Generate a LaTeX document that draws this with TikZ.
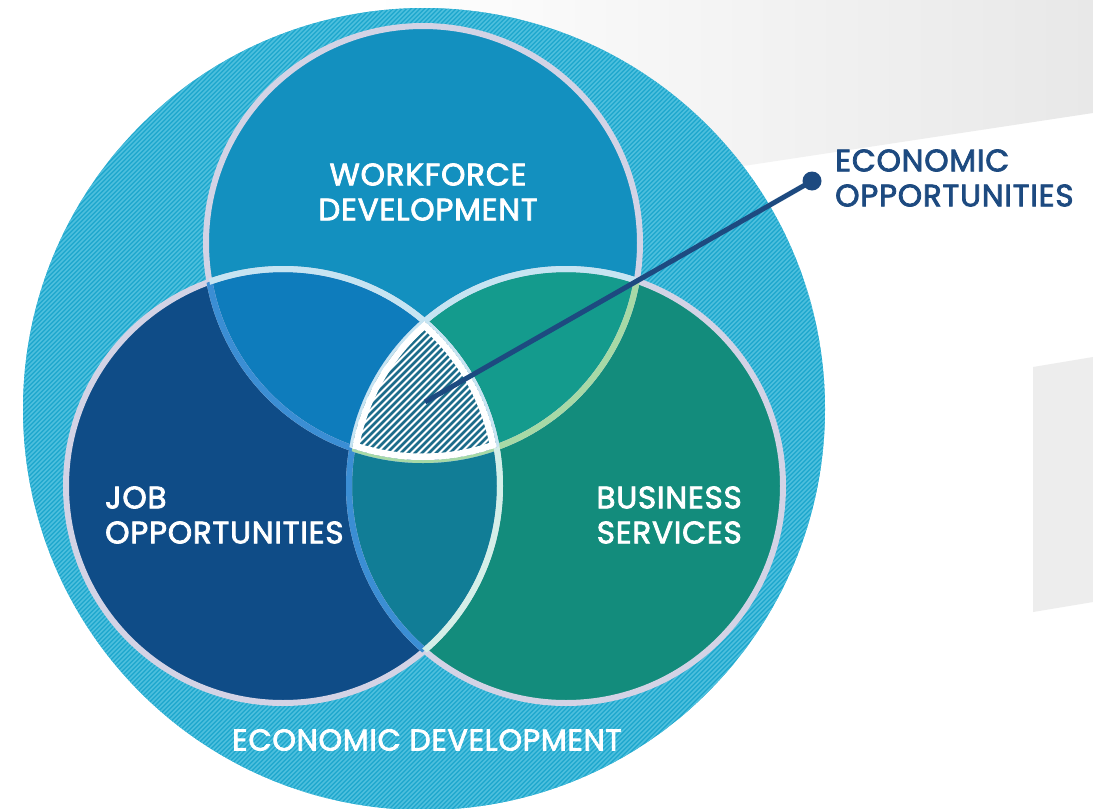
\documentclass[tikz,border=0pt]{standalone}
\usepackage{fontspec}
\setmainfont{Poppins}
\newfontfamily\lblfont[FakeBold=2.5,LetterSpace=2.5]{Poppins}
\definecolor{bggray}{HTML}{E8E8E8}
\definecolor{panelc}{HTML}{EDEDED}
\definecolor{outerc}{HTML}{1EA7CD}
\definecolor{outerst}{HTML}{4DBFDD}
\definecolor{topc}{HTML}{1390BF}
\definecolor{leftc}{HTML}{0F4C87}
\definecolor{rightc}{HTML}{138C7C}
\definecolor{tlc}{HTML}{0E7CBC}
\definecolor{trc}{HTML}{149B8D}
\definecolor{lrc}{HTML}{117D96}
\definecolor{rimc}{HTML}{D3D3E5}
\definecolor{rimblue}{HTML}{3B8ED4}
\definecolor{rimgreen}{HTML}{A7D9A6}
\definecolor{rimmint}{HTML}{D4EFE8}
\definecolor{rimpale}{HTML}{C6E4F2}
\definecolor{navy}{HTML}{1D4A80}
\definecolor{hatchc}{HTML}{1C6C8A}
\begin{document}
\begin{tikzpicture}[x=1pt,y=-1pt,
  ring/.style={line width=6pt},
  lbl/.style={text=white, font=\lblfont\fontsize{31}{35}\selectfont, inner sep=0pt},
  pin/.style={circle, fill=navy, minimum size=19pt, inner sep=0pt}]
\useasboundingbox (0,0) rectangle (1093,809);
\fill[white] (0,0) rectangle (1093,809);

% soft grey backdrop panels
\shade[left color=white, right color=bggray]
  (370,0) -- (1093,0) -- (1093,113) -- (697,173) -- (370,200) -- cycle;
\fill[panelc] (1033,367) -- (1093,357) -- (1093,602) -- (1033,612) -- cycle;

% circle centres
\coordinate (cO) at (424,409);
\coordinate (cT) at (423,243);
\coordinate (cL) at (283,486);
\coordinate (cR) at (566,486);
\def\R{217pt}

% outer striped disc
\fill[outerc] (cO) circle[radius=401pt];
\begin{scope}
  \clip (cO) circle[radius=401pt];
  \foreach \i in {-830,-825.5,...,1100}
    \draw[outerst, line width=1.6pt] (\i,820) -- ++(830,-830);
\end{scope}

% the three sets
\fill[topc] (cT) circle[radius=\R];
\fill[leftc] (cL) circle[radius=\R];
\fill[rightc] (cR) circle[radius=\R];

% pairwise overlaps
\begin{scope}
  \clip (cT) circle[radius=\R];
  \fill[tlc] (cL) circle[radius=\R];
  \fill[trc] (cR) circle[radius=\R];
\end{scope}
\begin{scope}
  \clip (cL) circle[radius=\R];
  \fill[lrc] (cR) circle[radius=\R];
\end{scope}

% rims
\foreach \c in {cT,cL,cR}
  \draw[rimc, ring] (\c) circle[radius=\R];
\begin{scope}
  \clip (cL) circle[radius=\R];
  \draw[rimblue, ring] (cT) circle[radius=\R];
  \draw[rimblue, ring] (cR) circle[radius=\R];
\end{scope}
\begin{scope}
  \clip (cR) circle[radius=\R];
  \draw[rimgreen, ring] (cT) circle[radius=\R];
  \draw[rimmint, ring] (cL) circle[radius=\R];
\end{scope}
\begin{scope}
  \clip (cT) circle[radius=\R];
  \draw[rimpale, ring] (cL) circle[radius=\R];
  \draw[rimpale, ring] (cR) circle[radius=\R];
\end{scope}

% hatched common core
\begin{scope}
  \clip (cT) circle[radius=\R];
  \clip (cL) circle[radius=\R];
  \clip (cR) circle[radius=\R];
  \fill[white] (300,250) rectangle (560,480);
  \foreach \i in {150,157,...,500}
    \draw[hatchc, line width=2.6pt] (\i,480) -- ++(180,-180);
  \draw[white, line width=13pt] (cT) circle[radius=\R] (cL) circle[radius=\R] (cR) circle[radius=\R];
\end{scope}

% leader from the core to its label
\coordinate (core) at (425,402);
\node[pin] (dot) at (812,181) {};
\draw[navy, line width=5pt] (core) -- (dot.center);

% labels
\node[lbl, align=center] (wf) at (428,192) {WORKFORCE\\DEVELOPMENT};
\node[lbl, align=left, anchor=west] (job) at (105,515) {JOB\\OPPORTUNITIES};
\node[lbl, align=right, anchor=east] (bs) at (742,515) {BUSINESS\\SERVICES};
\node[lbl, font=\lblfont\fontsize{30}{35}\selectfont] (ed) at (427,740) {ECONOMIC DEVELOPMENT};
\node[lbl, text=navy, align=left, anchor=west] (eo) at (835,178) {ECONOMIC\\OPPORTUNITIES};
\end{tikzpicture}
\end{document}
